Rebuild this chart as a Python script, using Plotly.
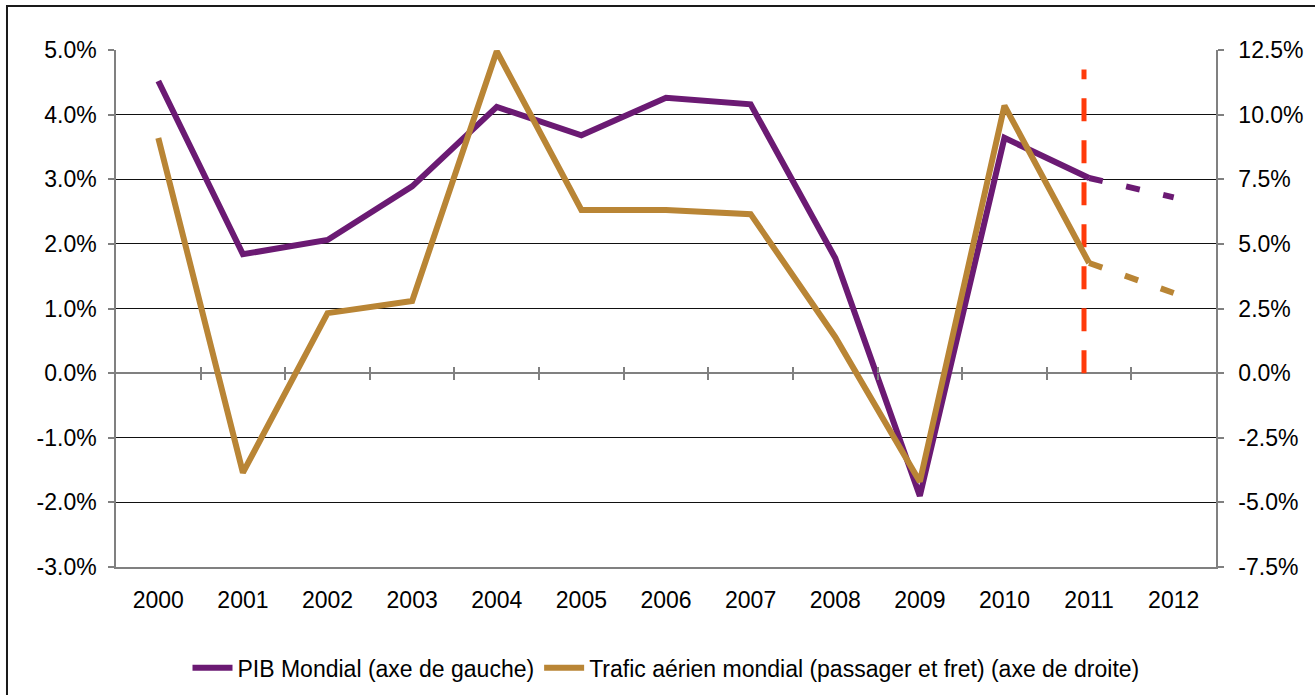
import plotly.graph_objects as go

# Annual growth rates, 2000-2011 observed, 2011-2012 projected
years = [2000, 2001, 2002, 2003, 2004, 2005, 2006, 2007, 2008, 2009, 2010, 2011]
pib_mondial = [4.52, 1.84, 2.06, 2.89, 4.12, 3.68, 4.26, 4.16, 1.78, -1.9, 3.64, 3.02]
trafic_aerien = [9.1, -3.85, 2.32, 2.79, 12.45, 6.31, 6.31, 6.15, 1.4, -4.2, 10.35, 4.26]

proj_years = [2011, 2012]
pib_proj = [3.02, 2.72]
trafic_proj = [4.26, 3.1]

# vertical separator between observed and projected values (left axis units)
separator_x = [2010.94, 2010.94]
separator_y = [0, 4.7]

year_ticks = list(range(2000, 2013))
boundary_ticks = [y + 0.5 for y in range(2000, 2012)]
left_ticks = [-3, -2, -1, 0, 1, 2, 3, 4, 5]
right_ticks = [-7.5, -5, -2.5, 0, 2.5, 5, 7.5, 10, 12.5]

PURPLE = "#6B1A73"
GOLD = "#B98535"
RED = "#FF3A0A"
FONT = "Liberation Sans, Arial, sans-serif"
FS = 23
LW = 6

fig = go.Figure()

fig.add_trace(go.Scatter(
    x=years, y=pib_mondial, mode="lines", name="PIB Mondial (axe de gauche)",
    line=dict(color=PURPLE, width=LW), yaxis="y", legendgroup="pib"))
fig.add_trace(go.Scatter(
    x=years, y=trafic_aerien, mode="lines",
    name="Trafic aérien mondial (passager et fret) (axe de droite)",
    line=dict(color=GOLD, width=LW), yaxis="y2", legendgroup="trafic"))

fig.add_trace(go.Scatter(
    x=proj_years, y=pib_proj, mode="lines", showlegend=False,
    line=dict(color=PURPLE, width=LW, dash="14px,24px"), yaxis="y", legendgroup="pib"))
fig.add_trace(go.Scatter(
    x=proj_years, y=trafic_proj, mode="lines", showlegend=False,
    line=dict(color=GOLD, width=LW, dash="14px,24px"), yaxis="y2", legendgroup="trafic"))

fig.add_trace(go.Scatter(
    x=separator_x, y=separator_y, mode="lines", showlegend=False,
    line=dict(color=RED, width=5, dash="23px,19px"), yaxis="y"))

fig.update_layout(
    width=1315, height=695,
    margin=dict(l=116, r=99, t=50, b=128, autoexpand=False),
    paper_bgcolor="white", plot_bgcolor="white",
    font=dict(family=FONT, size=FS, color="black"),
    showlegend=True,
    legend=dict(orientation="h", x=0.5, xanchor="center", y=-0.195, yanchor="middle",
                font=dict(family=FONT, size=FS, color="black"),
                itemwidth=40, tracegroupgap=0),
    xaxis=dict(
        range=[1999.5, 2012.5], tickvals=year_ticks, ticktext=[str(y) for y in year_ticks],
        showgrid=False, zeroline=False, showline=True, linecolor="#808080", linewidth=1.5,
        ticks="", ticklabelstandoff=12, tickfont=dict(size=FS), automargin=False),
    # zero line with crossing tick marks at the year boundaries
    xaxis2=dict(
        overlaying="x", anchor="free", position=0.375, range=[1999.5, 2012.5],
        tickvals=boundary_ticks, showticklabels=False, showgrid=False, zeroline=False,
        showline=False, ticks="outside", ticklen=6, tickcolor="#808080", tickwidth=1.5,
        automargin=False),
    xaxis3=dict(
        overlaying="x", anchor="free", position=0.375, range=[1999.5, 2012.5],
        tickvals=boundary_ticks, showticklabels=False, showgrid=False, zeroline=False,
        showline=False, ticks="inside", ticklen=6, tickcolor="#808080", tickwidth=1.5,
        automargin=False),
    yaxis=dict(
        range=[-3, 5], tickvals=left_ticks, ticktext=[f"{v:.1f}%" for v in left_ticks],
        showgrid=True, gridcolor="#111111", gridwidth=1,
        zeroline=True, zerolinecolor="#808080", zerolinewidth=1.5,
        showline=True, linecolor="#808080", linewidth=1.5,
        ticks="outside", ticklen=6, tickcolor="#808080", tickwidth=1.5,
        ticklabelstandoff=7, automargin=False),
    yaxis2=dict(
        range=[-7.5, 12.5], tickvals=right_ticks, ticktext=[f"{v:.1f}%" for v in right_ticks],
        overlaying="y", side="right", showgrid=False, zeroline=False,
        showline=True, linecolor="#808080", linewidth=1.5,
        ticks="outside", ticklen=6, tickcolor="#808080", tickwidth=1.5,
        ticklabelstandoff=10, automargin=False),
    shapes=[dict(type="rect", xref="paper", yref="paper",
                 x0=-0.0991, x1=1.2, y0=-0.3, y1=1.085,
                 line=dict(color="#1a1a1a", width=2), layer="below")],
)

# invisible helpers so the overlay axes are rendered
for ax in ("x2", "x3"):
    fig.add_trace(go.Scatter(x=[2000], y=[0], xaxis=ax, yaxis="y", mode="markers",
                             marker=dict(opacity=0), showlegend=False, hoverinfo="skip"))

fig.write_html("out.html")
